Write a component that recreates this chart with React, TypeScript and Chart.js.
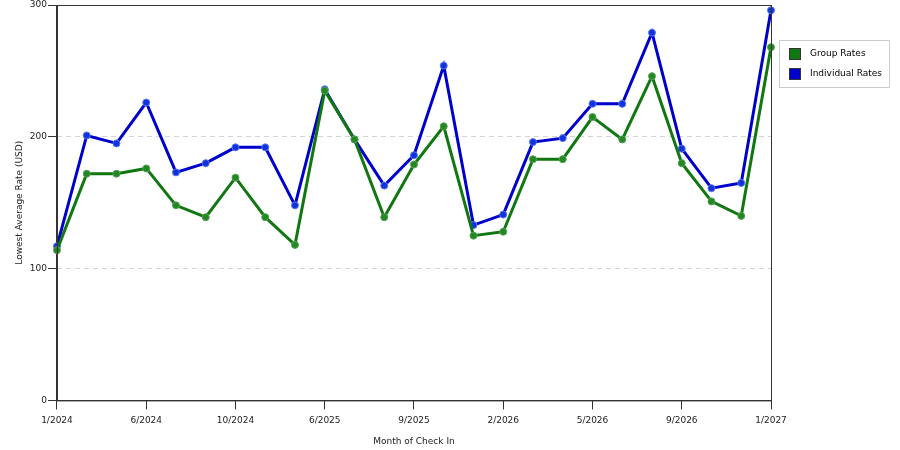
import { useEffect, useRef } from "react";
import { Chart, registerables } from "chart.js";

Chart.register(...registerables);

const months = [
  "1/2024", "3/2024", "4/2024", "6/2024", "7/2024", "9/2024", "10/2024", "12/2024", "4/2025",
  "6/2025", "7/2025", "8/2025", "9/2025", "10/2025", "12/2025", "2/2026", "3/2026", "4/2026",
  "5/2026", "6/2026", "8/2026", "9/2026", "10/2026", "12/2026", "1/2027",
];

const groupRates = [
  114, 172, 172, 176, 148, 139, 169, 139, 118, 235, 198, 139, 179, 208, 125, 128, 183, 183,
  215, 198, 246, 180, 151, 140, 268,
];

const individualRates = [
  117, 201, 195, 226, 173, 180, 192, 192, 148, 236, 198, 163, 186, 254, 133, 141, 196, 199,
  225, 225, 279, 191, 161, 165, 296,
];

const yTicks = [0, 100, 200, 300];

const FONT = "'DejaVu Sans', sans-serif";

// frame round the plot area and the boxed legend on the right
const framePlugin = {
  id: "frame",
  afterDraw(chart: Chart) {
    const { ctx, chartArea } = chart;
    ctx.save();
    ctx.strokeStyle = "#333";
    ctx.lineWidth = 1;
    ctx.strokeRect(chartArea.left + 0.5, chartArea.top + 0.5, chartArea.right - chartArea.left, chartArea.bottom - chartArea.top);

    const lx = chartArea.right + 8;
    const ly = 40;
    ctx.fillStyle = "#fff";
    ctx.fillRect(lx, ly, 110, 47);
    ctx.strokeStyle = "#ccc";
    ctx.strokeRect(lx + 0.5, ly + 0.5, 110, 47);
    ctx.font = `9px ${FONT}`;
    ctx.textBaseline = "middle";
    chart.data.datasets.forEach((ds, i) => {
      const y = ly + 14 + i * 20;
      ctx.fillStyle = ds.borderColor as string;
      ctx.fillRect(lx + 10, y - 6, 12, 12);
      ctx.strokeStyle = "#333";
      ctx.strokeRect(lx + 10.5, y - 5.5, 11, 11);
      ctx.fillStyle = "#000";
      ctx.fillText(ds.label as string, lx + 31, y);
    });
    ctx.restore();
  },
};

export default function App() {
  const canvasRef = useRef<HTMLCanvasElement>(null);

  useEffect(() => {
    if (!canvasRef.current) return;
    const chart = new Chart(canvasRef.current, {
      type: "line",
      data: {
        labels: months,
        datasets: [
          {
            label: "Group Rates",
            data: groupRates,
            borderColor: "#117711",
            backgroundColor: "#228822",
            pointBorderColor: "#55a055",
            borderWidth: 3,
            pointRadius: 3.5,
            pointBorderWidth: 1,
            tension: 0,
          },
          {
            label: "Individual Rates",
            data: individualRates,
            borderColor: "#0000cc",
            backgroundColor: "#1133dd",
            pointBorderColor: "#5577ee",
            borderWidth: 3,
            pointRadius: 3.5,
            pointBorderWidth: 1,
            tension: 0,
          },
        ],
      },
      options: {
        animation: false,
        responsive: false,
        layout: { padding: { top: 4, right: 129, left: 14, bottom: 3 } },
        plugins: {
          legend: { display: false },
          tooltip: { enabled: false },
        },
        scales: {
          x: {
            offset: false,
            grid: {
              drawOnChartArea: false,
              tickLength: 9,
              tickColor: (c: any) => (c.index % 3 === 0 ? "#333" : "rgba(0,0,0,0)"),
            },
            border: { color: "#333" },
            ticks: {
              autoSkip: false,
              maxRotation: 0,
              color: "#222",
              font: { family: FONT, size: 9 },
              padding: 6,
              callback: (_v: any, i: number) => (i % 3 === 0 ? months[i] : ""),
            },
            title: {
              display: true,
              text: "Month of Check In",
              color: "#222",
              font: { family: FONT, size: 9 },
              padding: { top: 4, bottom: 0 },
            },
          },
          y: {
            min: 0,
            max: 300,
            afterBuildTicks: (axis: any) => {
              axis.ticks = yTicks.map((v) => ({ value: v }));
            },
            afterFit: (axis: any) => {
              axis.paddingTop = 0;
            },
            grid: {
              color: (c: any) => (c.tick && (c.tick.value === 0 || c.tick.value === 300) ? "rgba(0,0,0,0)" : "#d4d4d4"),
              tickColor: "#333",
              tickLength: 9,
            },
            border: { color: "#333", dash: [5, 4] },
            ticks: {
              color: "#222",
              font: { family: FONT, size: 9 },
              padding: 1,
            },
            title: {
              display: true,
              text: "Lowest Average Rate (USD)",
              color: "#222",
              font: { family: FONT, size: 9 },
              padding: { top: 0, bottom: 4 },
            },
          },
        },
      },
      plugins: [framePlugin],
    });
    return () => chart.destroy();
  }, []);

  return (
    <div style={{ position: "fixed", left: 0, top: 0, width: 900, height: 450, background: "#fff" }}>
      <canvas ref={canvasRef} width={900} height={450} />
    </div>
  );
}
